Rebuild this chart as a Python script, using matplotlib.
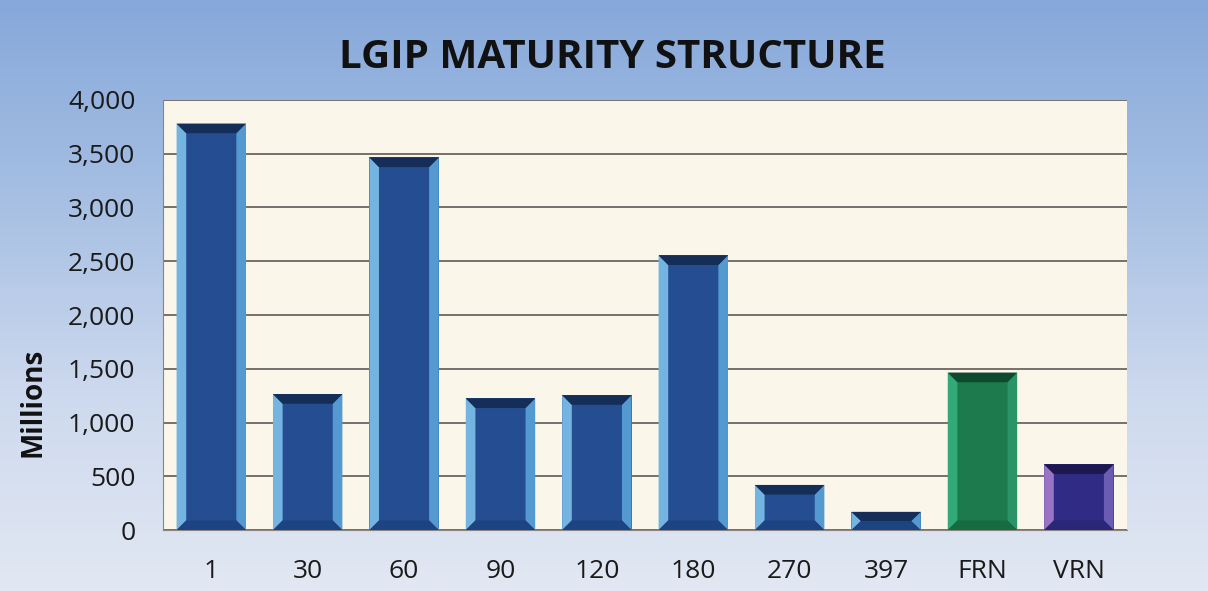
import matplotlib
matplotlib.use("Agg")
import matplotlib.pyplot as plt
import numpy as np
from matplotlib.colors import LinearSegmentedColormap

categories = ["1", "30", "60", "90", "120", "180", "270", "397", "FRN", "VRN"]
values = [3780, 1265, 3465, 1225, 1255, 2555, 420, 170, 1465, 612]
title = "LGIP MATURITY STRUCTURE"
ylabel = "Millions"

# colour sets: (center, left side, right side, top, bottom)
blue = ("#244d92", "#74b4e0", "#5499cf", "#152e58", "#1c4382")
green = ("#1d7a4c", "#33a878", "#2a9468", "#0e4a30", "#166b40")
purple = ("#302c86", "#9a74c4", "#6a5cb0", "#1d1850", "#2a2678")
palette = [blue] * 8 + [green, purple]

fig = plt.figure(figsize=(12.08, 5.91), dpi=100)

# background gradient
bg = fig.add_axes([0, 0, 1, 1], zorder=-10)
grad = np.linspace(0, 1, 256).reshape(-1, 1)
cmap = LinearSegmentedColormap.from_list("bg", ["#86a8da", "#a6bfe3", "#cdd9ee", "#e2e8f3"])
bg.imshow(grad, aspect="auto", cmap=cmap, extent=[0, 1, 0, 1], origin="upper")
bg.set_axis_off()

ax = fig.add_axes([0.135, 0.103, 0.798, 0.728])
ax.set_facecolor("#faf6ea")
x = np.arange(len(categories))
w = 0.72
bx = 0.10   # horizontal bevel (data units)
by0 = 90    # vertical bevel (data units)

for xi, v, cols in zip(x, values, palette):
    c, lft, rgt, top, bot = cols
    by = min(by0, v / 2)
    x0, x1 = xi - w / 2, xi + w / 2
    ax.bar(xi, v, width=w, color=c, zorder=3)
    ax.fill([x0, x0 + bx, x0 + bx, x0], [0, by, v - by, v], color=lft, zorder=4, lw=0)
    ax.fill([x1, x1 - bx, x1 - bx, x1], [0, by, v - by, v], color=rgt, zorder=4, lw=0)
    ax.fill([x0, x1, x1 - bx, x0 + bx], [v, v, v - by, v - by], color=top, zorder=4, lw=0)
    ax.fill([x0, x1, x1 - bx, x0 + bx], [0, 0, by, by], color=bot, zorder=4, lw=0)

ax.set_xlim(-0.5, len(categories) - 0.5)
ax.set_ylim(0, 4000)
ax.set_yticks(np.arange(0, 4001, 500))
ax.set_yticklabels([f"{t:,}" for t in range(0, 4001, 500)])
ax.set_xticks(x)
ax.set_xticklabels(categories)
ax.yaxis.grid(True, color="#75706b", lw=1.4, zorder=1)
ax.set_axisbelow(True)
for s in ["top", "right"]:
    ax.spines[s].set_visible(False)
ax.spines["left"].set_color("#8a8580")
ax.spines["bottom"].set_color("#8a8580")
ax.tick_params(axis="both", length=0, labelsize=19, colors="#1a1a1a")
ax.tick_params(axis="y", pad=20)
ax.tick_params(axis="x", pad=21)
for lab in ax.get_xticklabels() + ax.get_yticklabels():
    lab.set_family("Open Sans")

fig.text(33 / 1208, 1 - 402 / 591, ylabel, rotation=90, ha="center", va="center",
         fontsize=20, fontweight="bold", family="Open Sans", color="#111111")
fig.text(0.507, 0.902, title, ha="center", va="center", fontsize=29,
         fontweight="bold", family="Open Sans", color="#111111")

fig.savefig("out.png", dpi=100)
